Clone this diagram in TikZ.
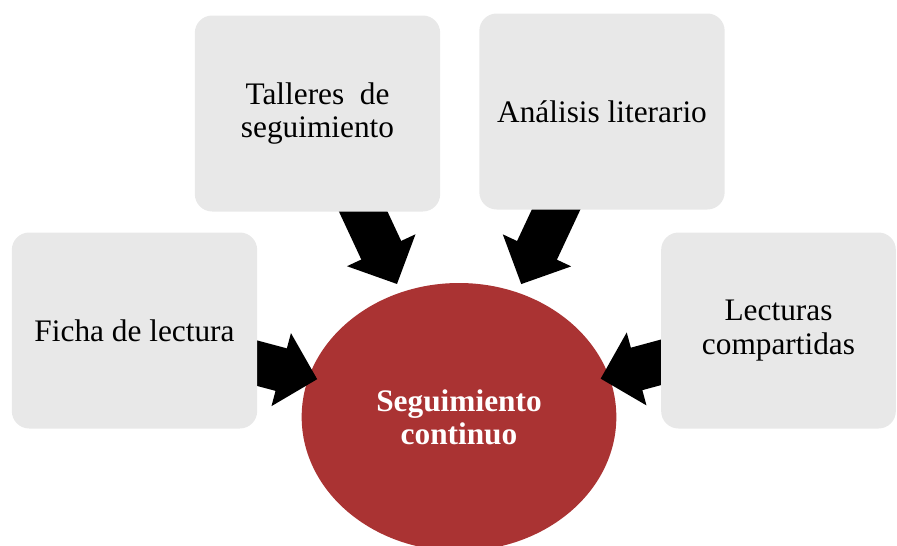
\documentclass[tikz,border=0pt]{standalone}
\usepackage{fontspec}
\setmainfont{Liberation Serif}
\usetikzlibrary{arrows.meta,shapes.geometric,backgrounds}
\definecolor{grau}{RGB}{232,232,232}
\definecolor{rot}{RGB}{170,51,51}

\begin{document}
\begin{tikzpicture}[x=0.75pt,y=-0.75pt,
    kasten/.style={rectangle, rounded corners=13pt, fill=grau, minimum width=184pt, minimum height=147pt, align=center, font=\fontsize{23.5}{25}\selectfont},
    kreis/.style={ellipse, fill=rot, minimum width=236pt, minimum height=201pt, inner sep=0pt, align=center, text=white, font=\bfseries\fontsize{23.5}{25}\selectfont},
    pfeil/.style={line width=33pt, shorten >=110pt, -{Triangle[length=28pt,width=55pt]}},
]

\useasboundingbox (0,0) rectangle (897,546);

\node[kasten] (taller) at (317.5,113.5) {Talleres~ de\\seguimiento};
\node[kasten] (analisis) at (602,111.5) {Análisis literario};
\node[kasten] (ficha) at (134.5,330.5) {Ficha de lectura};
\node[kasten, minimum width=176pt] (lecturas) at (778.5,330.5) {Lecturas\\compartidas};

% Kreis und Pfeile hinter den Kaesten
\begin{scope}[on background layer]
\node[kreis] (seg) at (459,417) {Seguimiento\\continuo};
\draw[pfeil] (taller.center) -- (seg.center);
\draw[pfeil] (analisis.center) -- (seg.center);
\draw[pfeil] (ficha.center) -- (seg.center);
\draw[pfeil] (lecturas.center) -- (seg.center);
\end{scope}

\end{tikzpicture}
\end{document}
